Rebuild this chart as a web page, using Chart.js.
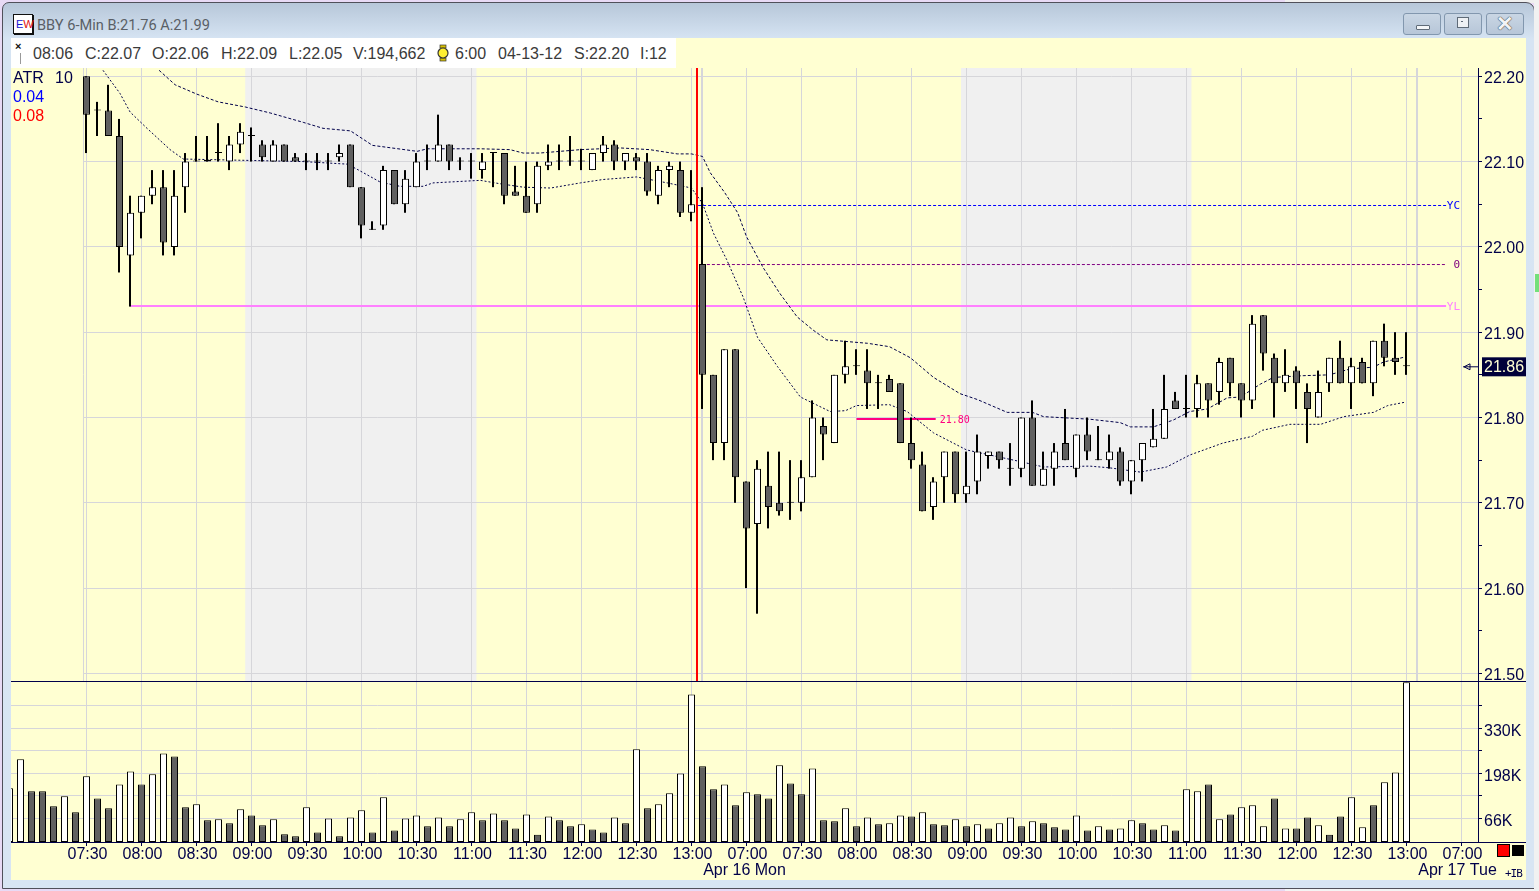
<!DOCTYPE html>
<html><head><meta charset="utf-8">
<script src="https://cdn.jsdelivr.net/npm/chart.js@4"></script>
<style>
html,body{margin:0;padding:0;width:1539px;height:891px;overflow:hidden;background:#E8DAF5;font-family:"Liberation Sans",Arial,sans-serif}
.a{position:absolute;white-space:nowrap}
#win{left:2px;top:2px;width:1531px;height:885px;border:1px solid #50505A;border-radius:7px 9px 0 0;background:linear-gradient(#B7C7D9 0,#D6E4F3 36px,#D8E5F3 100%)}
#strip{left:1534px;top:0;width:5px;height:891px;background:#F1F1F1}
#cv{position:absolute;left:11px;top:38px;background:#FFFFD2}
.info{top:44px;font-size:16px;line-height:20px;color:#3a3a3a}
.side{left:13px;font-size:16px;line-height:18px}
.btn{top:13px;width:36px;height:20px;border:1px solid #8297AE;border-radius:3px;background:linear-gradient(#C9D6E4,#B7C6D8)}
</style></head><body>
<div class="a" style="left:1285px;top:0;width:254px;height:3px;background:#EFEFEF"></div>
<div class="a" style="left:1285px;top:888px;width:254px;height:3px;background:#F4F4F4"></div>
<div class="a" id="win"></div>
<div class="a" id="strip"></div>
<div class="a" style="left:1535px;top:274px;width:4px;height:18px;background:#74E07A"></div>
<div class="a" style="left:13px;top:14px;width:18px;height:18px;background:#fff;border:1px solid #111;box-shadow:1px 1px 0 #111;font-size:11px;line-height:18px;font-weight:400"><span style="color:#1616d0;margin-left:2px">E</span><span style="color:#e01010">W</span></div>
<div class="a" style="left:37px;top:14px;font:14.6px/23px Roboto,sans-serif;color:#5a5f66">BBY 6-Min B:21.76 A:21.99</div>
<div class="a btn" style="left:1403px"><div class="a" style="left:12px;top:11px;width:12px;height:3px;background:#f4f6f8;border:1px solid #5f6b78;border-radius:1px"></div></div>
<div class="a btn" style="left:1444px"><div class="a" style="left:12px;top:3px;width:10px;height:9px;background:#eef1f4;border:1px solid #5f6b78"></div><div class="a" style="left:16px;top:7px;width:2px;height:1px;background:#5f6b78"></div></div>
<div class="a btn" style="left:1486px"><div class="a" style="left:0;top:-1px;width:36px;text-align:center;font:bold 21px/22px 'Liberation Sans';color:#f2f4f6;text-shadow:0 0 1px #333,0 0 1px #333">✕</div></div>
<canvas id="cv" width="1515" height="842"></canvas>
<div class="a" style="left:11px;top:38px;width:665px;height:30px;background:#fff"></div>
<div class="a" style="left:15px;top:40px;font:bold 11px/12px 'Liberation Sans';color:#111">×</div>
<div class="a" style="left:20px;top:53px;width:1px;height:11px;background:#999"></div>
<div class="a info" style="left:33px">08:06</div>
<div class="a info" style="left:85px">C:22.07</div>
<div class="a info" style="left:152px">O:22.06</div>
<div class="a info" style="left:221px">H:22.09</div>
<div class="a info" style="left:289px">L:22.05</div>
<div class="a info" style="left:353px">V:194,662</div>
<svg class="a" style="left:436px;top:44px" width="14" height="18"><rect x="4" y="1" width="6" height="3" fill="#d8c000" stroke="#333" stroke-width=".7"/><rect x="4" y="14" width="6" height="3" fill="#d8c000" stroke="#333" stroke-width=".7"/><circle cx="7" cy="9" r="5" fill="#ffef30" stroke="#333" stroke-width="1.2"/></svg>
<div class="a info" style="left:455px">6:00</div>
<div class="a info" style="left:498px">04-13-12</div>
<div class="a info" style="left:574px">S:22.20</div>
<div class="a info" style="left:640px">I:12</div>
<div class="a side" style="top:69px;color:#00004A">ATR</div>
<div class="a side" style="left:55px;top:69px;color:#00004A">10</div>
<div class="a side" style="top:88px;color:#0000FF">0.04</div>
<div class="a side" style="top:107px;color:#FF0000">0.08</div>
<div class="a" style="left:11px;top:681px;width:1515px;height:1px;background:#00004A"></div>
<div class="a" style="left:11px;top:842px;width:1515px;height:1px;background:#00004A"></div>
<div class="a" style="left:1498px;top:845px;width:11px;height:11px;background:#FF0000;outline:1px solid #000"></div>
<div class="a" style="left:1512px;top:845px;width:12px;height:11px;background:#000"></div>
<div class="a" style="left:1505px;top:868px;font:11px/12px 'DejaVu Sans Mono';letter-spacing:-1px;color:#00004A">+IB</div>
<script>
const tickIdx=[6,11,16,21,26,31,36,41,46,51,56,61,66,71,76,81,86,91,96,101,106,111,116,121,126,131];
const tickLabels=['07:30','08:00','08:30','09:00','09:30','10:00','10:30','11:00','11:30','12:00','12:30','13:00','07:00','07:30','08:00','08:30','09:00','09:30','10:00','10:30','11:00','11:30','12:00','12:30','13:00','07:00'];
const dateLabels=['Apr 16 Mon','Apr 17 Tue'];
const dateIdx=[65.82,130.64];
const priceTicks=[22.20,22.15,22.10,22.05,22.00,21.95,21.90,21.85,21.80,21.75,21.70,21.65,21.60,21.55,21.50];
const priceLabels=['22.20','','22.10','','22.00','','21.90','','21.80','','21.70','','21.60','','21.50'];
const priceGrid=[22.20,22.10,22.00,21.90,21.80,21.70,21.60,21.50];
const volTicks=[66,132,198,264,330,396];
const volLabels=['66K','','198K','','330K',''];
const firstCandle=6;
const openP=[22.20,22.16,22.16,22.13,21.99,22.04,22.06,22.07,22.00,22.07,22.10,22.10,22.11,22.10,22.12,22.13,22.12,22.10,22.12,22.105,22.10,22.10,22.10,22.105,22.12,22.07,22.02,22.025,22.09,22.05,22.07,22.10,22.10,22.12,22.10,22.10,22.09,22.11,22.11,22.065,22.06,22.05,22.095,22.10,22.10,22.10,22.09,22.11,22.12,22.10,22.105,22.10,22.06,22.09,22.09,22.04,21.98,21.85,21.77,21.88,21.725,21.675,21.72,21.70,21.70,21.70,21.73,21.79,21.77,21.85,21.86,21.855,21.84,21.845,21.84,21.77,21.745,21.695,21.73,21.76,21.71,21.725,21.755,21.76,21.74,21.74,21.80,21.72,21.74,21.77,21.74,21.78,21.75,21.75,21.76,21.725,21.75,21.765,21.775,21.82,21.81,21.81,21.84,21.83,21.87,21.84,21.82,21.92,21.87,21.84,21.855,21.83,21.80,21.84,21.87,21.84,21.865,21.84,21.89,21.87,21.86];
const closeP=[22.155,22.16,22.13,22.00,22.04,22.06,22.07,22.005,22.06,22.10,22.10,22.102,22.11,22.12,22.135,22.13,22.105,22.12,22.10,22.10,22.10,22.10,22.10,22.11,22.07,22.025,22.02,22.09,22.05,22.08,22.10,22.10,22.12,22.10,22.10,22.10,22.10,22.11,22.06,22.06,22.04,22.095,22.10,22.10,22.10,22.10,22.11,22.12,22.10,22.11,22.10,22.065,22.09,22.095,22.04,22.05,21.85,21.77,21.88,21.73,21.67,21.74,21.695,21.69,21.70,21.73,21.80,21.78,21.85,21.86,21.86,21.84,21.84,21.83,21.77,21.75,21.69,21.725,21.76,21.71,21.72,21.76,21.76,21.75,21.74,21.80,21.72,21.74,21.76,21.75,21.78,21.76,21.75,21.76,21.725,21.75,21.77,21.775,21.81,21.81,21.81,21.84,21.82,21.865,21.84,21.82,21.91,21.875,21.84,21.85,21.84,21.81,21.83,21.87,21.84,21.86,21.84,21.89,21.87,21.865,21.86];
const highP=[22.20,22.17,22.19,22.15,22.06,22.06,22.09,22.09,22.09,22.11,22.13,22.13,22.145,22.13,22.145,22.14,22.125,22.125,22.12,22.11,22.11,22.11,22.11,22.12,22.12,22.07,22.03,22.095,22.09,22.09,22.11,22.12,22.155,22.12,22.105,22.11,22.11,22.11,22.11,22.095,22.10,22.10,22.12,22.12,22.13,22.115,22.11,22.13,22.125,22.11,22.11,22.11,22.095,22.10,22.10,22.09,22.07,21.85,21.88,21.88,21.725,21.75,21.76,21.76,21.75,21.75,21.82,21.80,21.85,21.89,21.88,21.88,21.85,21.85,21.84,21.80,21.76,21.73,21.76,21.76,21.76,21.78,21.76,21.76,21.77,21.80,21.82,21.76,21.77,21.81,21.78,21.80,21.79,21.78,21.765,21.75,21.77,21.81,21.85,21.83,21.85,21.85,21.84,21.87,21.87,21.84,21.92,21.92,21.875,21.88,21.86,21.84,21.855,21.87,21.89,21.87,21.87,21.89,21.91,21.90,21.90];
const lowP=[22.11,22.13,22.13,21.97,21.93,22.01,22.05,21.99,21.99,22.04,22.10,22.10,22.10,22.09,22.11,22.10,22.10,22.10,22.10,22.10,22.09,22.09,22.09,22.10,22.07,22.01,22.02,22.02,22.05,22.04,22.07,22.09,22.10,22.09,22.09,22.08,22.08,22.07,22.05,22.06,22.04,22.04,22.09,22.09,22.095,22.09,22.09,22.10,22.09,22.09,22.09,22.06,22.05,22.07,22.035,22.03,21.81,21.75,21.75,21.70,21.60,21.57,21.67,21.685,21.68,21.69,21.73,21.75,21.77,21.84,21.85,21.81,21.81,21.83,21.77,21.74,21.69,21.68,21.70,21.70,21.70,21.71,21.74,21.74,21.72,21.73,21.72,21.72,21.72,21.75,21.73,21.75,21.75,21.74,21.72,21.71,21.725,21.765,21.775,21.81,21.80,21.80,21.80,21.815,21.825,21.80,21.81,21.855,21.80,21.83,21.81,21.77,21.80,21.83,21.84,21.81,21.84,21.825,21.86,21.85,21.85];
const volIdxStart=-1;
const volumeK=[155,240,146,146,102,131,84,190,125,96,166,204,166,196,257,248,99,108,61,64,52,93,75,46,64,20,14,99,25,66,14,69,90,25,128,31,66,75,43,69,43,64,84,61,81,61,37,78,18,72,61,43,49,34,25,69,52,269,96,108,140,198,430,219,152,166,105,143,137,125,222,169,137,213,61,58,96,43,69,49,52,75,72,84,49,46,64,43,49,37,52,69,43,58,52,40,34,75,31,43,34,37,61,52,34,46,31,152,146,166,64,78,99,105,43,125,37,37,69,46,18,72,128,40,105,172,201,466];
const volUp=[1,1,0,0,0,1,0,1,0,0,1,1,0,1,1,0,0,1,0,1,0,1,0,0,1,0,0,1,0,1,0,1,1,0,1,0,1,1,0,1,0,1,1,0,1,0,0,1,0,1,0,0,1,0,0,1,0,1,0,1,1,1,1,0,0,1,0,1,0,0,1,0,0,1,0,0,1,0,1,0,1,1,0,1,0,0,1,0,1,0,1,1,0,1,0,0,0,1,0,1,0,1,1,0,0,1,0,1,1,0,1,0,1,1,1,0,1,0,0,1,0,0,1,1,0,1,1,1];
const upperIdx=[12.6,14.06,16.04,17.97,20.43,22.7,25.7,27.5,30,32,36.06,37,41.8,44.5,45.7,47.2,50.9,54.5,57.2,59.7,61,62,62.7,64,65.2,66,67.5,69,70.6,72,73.3,77,79,80.9,83,85.4,87,89.7,92,93,97.2,99.97,100.9,103,104.8,106.3,107.9,109.7,110.9,112.7,113.9,116.6,119,120.9,123,123.9,125.9];
const upperBand=[22.207,22.190,22.179,22.170,22.164,22.157,22.146,22.139,22.136,22.119,22.112,22.115,22.115,22.114,22.110,22.110,22.114,22.116,22.114,22.109,22.109,22.106,22.087,22.064,22.040,22.012,21.976,21.946,21.918,21.903,21.891,21.887,21.883,21.870,21.847,21.828,21.821,21.806,21.806,21.801,21.798,21.794,21.789,21.789,21.797,21.807,21.810,21.823,21.824,21.839,21.847,21.849,21.850,21.857,21.859,21.865,21.871];
const lowerIdx=[7.5,9.04,9.97,11.5,13.6,14.8,25.7,29.7,30.6,32.7,34.5,36.6,37.5,41.8,43.6,45.7,48.2,50.9,52.97,56,58.8,61,62,63,64.2,65.7,67,68.8,70.9,73.6,75,76,79,80.6,83,86,91,93,97.2,99,101.8,104.2,106.3,109.3,112,112.9,115.4,118.2,120.3,123,124.3,125.9];
const lowerBand=[22.207,22.180,22.158,22.139,22.114,22.103,22.100,22.097,22.091,22.076,22.071,22.071,22.075,22.078,22.074,22.070,22.069,22.075,22.079,22.082,22.075,22.069,22.051,22.016,21.985,21.941,21.894,21.860,21.824,21.807,21.808,21.814,21.815,21.807,21.782,21.762,21.748,21.742,21.743,21.741,21.736,21.742,21.756,21.770,21.778,21.785,21.792,21.792,21.801,21.806,21.814,21.818];
const levelNames=['YC','0','YL','21.80'];
const levelPrices=[22.0485,21.9793,21.9307,21.7982];
const levelFrom=[61.6,62.4,10,76];
const levelTo=[129.6,129.6,129.6,83.2];
const levelColors=['#0000FF','#800080','#FF80FF','#FF0080'];
const levelWidths=[1,1,2,2];
const levelDash=[[3,2],[3,2],[],[]];
const sessions=[[20.43,41.45],[85.5,106.45]];
const dayLines=[5.727,61.955,126.955];
const dayWidths=[1,2,2];
const markerLine=61.5;
const lastPrice=21.86;

const NAVY='#00004A',GRID='#D6D6DA',CREAM='#FFFFD2';
const X_MIN=-0.8636,X_MAX=132.5,P_MIN=21.4911,P_MAX=22.2097,V_MIN=-2.93,V_MAX=469.3,WICK_SHIFT=0.045;
const seg=(o)=>Object.assign({type:'line',yAxisID:'yP',pointRadius:0,borderWidth:1,tension:0,fill:false},o);
const datasets=[];
dayLines.forEach((d,i)=>datasets.push(seg({data:[{x:d,y:P_MIN},{x:d,y:P_MAX}],borderColor:GRID,borderWidth:dayWidths[i],order:90})));
levelNames.forEach((n,i)=>datasets.push(seg({data:[{x:levelFrom[i],y:levelPrices[i]},{x:levelTo[i],y:levelPrices[i]}],borderColor:levelColors[i],borderWidth:levelWidths[i],borderDash:levelDash[i],order:80})));
datasets.push(seg({data:upperIdx.map((x,i)=>({x,y:upperBand[i]})),borderColor:NAVY,borderDash:[3,2],order:70}));
datasets.push(seg({data:lowerIdx.map((x,i)=>({x,y:lowerBand[i]})),borderColor:NAVY,borderDash:[2,2],order:70}));
datasets.push({type:'bar',yAxisID:'yP',grouped:false,barThickness:2,backgroundColor:'#000',order:60,inflateAmount:0,
  data:openP.map((o,i)=>({x:i+firstCandle-WICK_SHIFT,y:[lowP[i],highP[i]]}))});
datasets.push({type:'bar',yAxisID:'yP',grouped:false,barThickness:7,minBarLength:1,order:50,inflateAmount:0,borderSkipped:false,borderWidth:1,borderColor:'#000',
  backgroundColor:openP.map((o,i)=>closeP[i]>=o?'#FFFFFF':'#606060'),
  data:openP.map((o,i)=>({x:i+firstCandle,y:[Math.min(o,closeP[i]),Math.max(o,closeP[i])]}))});
datasets.push(seg({data:[{x:markerLine,y:P_MIN},{x:markerLine,y:P_MAX}],borderColor:'#FF0000',borderWidth:2,order:40}));
datasets.push({type:'bar',yAxisID:'yV',grouped:false,barThickness:7,order:50,inflateAmount:0,borderSkipped:false,borderWidth:1,borderColor:'#000',base:V_MIN,
  backgroundColor:volUp.map(u=>u?'#FFFFFF':'#606060'),
  data:volumeK.map((v,i)=>({x:i+volIdxStart,y:v}))});

const paint={id:'paint',
 beforeDraw(c){const {x,yP,yV}=c.scales,g=c.ctx;g.save();g.fillStyle='#F0F0F0';
  sessions.forEach(s=>{const a=x.getPixelForValue(s[0]),b=x.getPixelForValue(s[1]);g.fillRect(a,yP.top,b-a,yP.bottom-yP.top);});g.restore();
  yP.getLabelItems().forEach(it=>{it.options.translation[1]+=2;});
  yV.getLabelItems().forEach(it=>{it.options.translation[1]+=3;});
  x.getLabelItems().forEach(it=>{it.options.translation[0]+=1;it.options.translation[1]+=1;});},
 beforeDatasetsDraw(c){const {x,yP}=c.scales,g=c.ctx;g.save();g.fillStyle=CREAM;
  const right=x.getPixelForValue(dayLines[0]);g.fillRect(x.left,yP.top,right-x.left,yP.bottom-yP.top);g.restore();},
 afterDatasetsDraw(c){const {x,yP}=c.scales,g=c.ctx;g.save();g.textBaseline='middle';
  levelNames.forEach((n,i)=>{g.fillStyle=levelColors[i];
    const py=yP.getPixelForValue(levelPrices[i])+1;
    if(i===3){g.font='10px "DejaVu Sans Mono"';g.textAlign='left';g.fillText(n,x.getPixelForValue(levelTo[i])+4,py);}
    else{g.font='11px "DejaVu Sans Mono"';g.textAlign='right';g.fillText(n,x.getPixelForValue(levelTo[i])+14,py);}
  });
  g.textAlign='left';
  const ly=yP.getPixelForValue(lastPrice);
  g.fillStyle='#00003A';g.fillRect(1482-11,ly-9,44,19);
  g.fillStyle=CREAM;g.font='16px "Liberation Sans"';g.fillText('21.86',1484-11,ly+1);
  g.strokeStyle=NAVY;g.lineWidth=1;g.beginPath();
  g.moveTo(1463-11,ly+.5);g.lineTo(1478-11,ly+.5);g.moveTo(1464-11,ly+.5);g.lineTo(1470-11,ly-2.5);g.lineTo(1470-11,ly+3.5);g.closePath();g.stroke();
  g.fillStyle=NAVY;g.textAlign='center';
  dateLabels.forEach((t,i)=>g.fillText(t,x.getPixelForValue(dateIdx[i]),870.5-38));
  g.restore();}
};
new Chart(document.getElementById('cv'),{type:'bar',data:{datasets},plugins:[paint],
 options:{responsive:false,animation:false,devicePixelRatio:1,
  layout:{padding:{left:0,right:0,top:30,bottom:0}},
  plugins:{legend:{display:false},tooltip:{enabled:false}},
  scales:{
   x:{type:'linear',position:'bottom',min:X_MIN,max:X_MAX,offset:false,
    afterBuildTicks:s=>{s.ticks=tickIdx.map(v=>({value:v}));},
    afterFit:s=>{s.height=38;},
    grid:{offset:false,color:GRID,tickColor:NAVY,tickLength:4,lineWidth:1},border:{color:NAVY},
    ticks:{autoSkip:false,maxRotation:0,padding:0,color:NAVY,font:{family:'"Liberation Sans"',size:16,lineHeight:1},
     callback:(v)=>tickLabels[tickIdx.indexOf(v)]}},
   yP:{type:'linear',position:'right',stack:'panes',stackWeight:613,weight:0,min:P_MIN,max:P_MAX,
    afterBuildTicks:s=>{s.ticks=priceTicks.map(v=>({value:v}));},
    afterFit:s=>{s.width=48;},
    grid:{color:(ctx)=>priceGrid.includes(ctx.tick&&ctx.tick.value)?GRID:'rgba(0,0,0,0)',tickColor:NAVY,tickLength:4},border:{color:NAVY},
    ticks:{autoSkip:false,padding:2,color:NAVY,font:{family:'"Liberation Sans"',size:16},
     callback:(v)=>priceLabels[priceTicks.indexOf(v)]}},
   yV:{type:'linear',position:'right',stack:'panes',stackWeight:161,weight:1,min:V_MIN,max:V_MAX,
    afterBuildTicks:s=>{s.ticks=volTicks.map(v=>({value:v}));},
    afterFit:s=>{s.width=48;},
    grid:{color:GRID,tickColor:NAVY,tickLength:4},border:{color:NAVY},
    ticks:{autoSkip:false,padding:2,color:NAVY,font:{family:'"Liberation Sans"',size:16},
     callback:(v)=>volLabels[volTicks.indexOf(v)]}}
  }}});
</script>
</body></html>
